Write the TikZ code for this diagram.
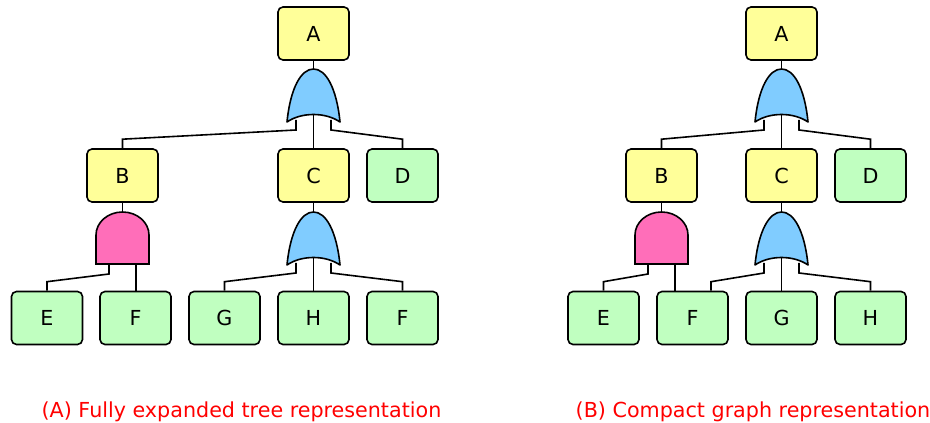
\documentclass[tikz,border=0pt]{standalone}
\usepackage{tikz}
\usepackage{xcolor}
\usepackage{fontspec}
\setmainfont{DejaVu Sans}
\usetikzlibrary{positioning}

\definecolor{evyellow}{HTML}{FFFF99}
\definecolor{evgreen}{HTML}{C0FFC0}
\definecolor{orblue}{HTML}{80CCFF}
\definecolor{andpink}{HTML}{FF6EB9}

\tikzset{
  event/.style={draw,rounded corners=3.75pt,line width=1.2pt,
    minimum width=53.25pt,minimum height=39.75pt,inner sep=0pt,
    font=\fontsize{15.5}{18}\selectfont},
  inter/.style={event,fill=evyellow},
  basic/.style={event,fill=evgreen},
  wire/.style={line width=1.2pt},
  caption/.style={text=red,anchor=base,font=\fontsize{15.5}{18}\selectfont},
  orgate/.pic={
    \draw[line width=1.2pt,fill=orblue,line join=round]
      (-26.5,53) .. controls (-23,18) and (-12,0) .. (0,0)
      .. controls (12,0) and (23,18) .. (26.5,53)
      .. controls (12,43) and (-12,43) .. cycle;
    \coordinate (-t) at (0,0);
    \coordinate (-l) at (-17.5,51);
    \coordinate (-m) at (0,46);
    \coordinate (-r) at (17.5,51);
  },
  andgate/.pic={
    \draw[line width=1.2pt,fill=andpink]
      (-26.5,52) -- (-26.5,23)
      .. controls (-26.5,10.3) and (-14.6,0) .. (0,0)
      .. controls (14.6,0) and (26.5,10.3) .. (26.5,23)
      -- (26.5,52) -- cycle;
    \coordinate (-t) at (0,0);
    \coordinate (-l) at (-13.5,52);
    \coordinate (-r) at (13.5,52);
  }
}

\begin{document}
\begin{tikzpicture}[x=0.75pt,y=-0.75pt]
  \useasboundingbox (0,0) rectangle (930,423);

  % (A) tree
  \node[inter] (ta) at (313.5,33.5) {A};
  \node[inter] (tb) at (122.5,175.5) {B};
  \node[inter] (tc) at (313.5,175.5) {C};
  \node[basic] (td) at (402.5,175.5) {D};
  \node[basic] (te) at (47,318) {E};
  \node[basic] (tf) at (135.5,318) {F};
  \node[basic] (tg) at (224.5,318) {G};
  \node[basic] (th) at (313.5,318) {H};
  \node[basic] (tf2) at (402.5,318) {F};
  \pic (tor1) at (313.5,69) {orgate};
  \pic (tand) at (122.5,212) {andgate};
  \pic (tor2) at (313.5,212) {orgate};

  \draw[wire] (ta.south) -- (tor1-t);
  \draw[wire] (tor1-l) -- ++(0,10) -- ([yshift=6.75pt]tb.north) -- (tb.north);
  \draw[wire] (tor1-m) -- (tc.north);
  \draw[wire] (tor1-r) -- ++(0,10) -- ([yshift=6.75pt]td.north) -- (td.north);
  \draw[wire] (tb.south) -- (tand-t);
  \draw[wire] (tand-l) -- ++(0,10) -- ([yshift=6.75pt]te.north) -- (te.north);
  \draw[wire] (tand-r) -- (tand-r |- tf.north);
  \draw[wire] (tc.south) -- (tor2-t);
  \draw[wire] (tor2-l) -- ++(0,10) -- ([yshift=6.75pt]tg.north) -- (tg.north);
  \draw[wire] (tor2-m) -- (th.north);
  \draw[wire] (tor2-r) -- ++(0,10) -- ([yshift=6.75pt]tf2.north) -- (tf2.north);

  % (B) graph
  \node[inter] (ga) at (781.5,33.5) {A};
  \node[inter] (gb) at (661.5,175.5) {B};
  \node[inter] (gc) at (781.5,175.5) {C};
  \node[basic] (gd) at (870.5,175.5) {D};
  \node[basic] (ge) at (603.5,318) {E};
  \node[basic] (gf) at (692.5,318) {F};
  \node[basic] (gg) at (781.5,318) {G};
  \node[basic] (gh) at (870.5,318) {H};
  \pic (gor1) at (781.5,69) {orgate};
  \pic (gand) at (661.5,212) {andgate};
  \pic (gor2) at (781.5,212) {orgate};

  \draw[wire] (ga.south) -- (gor1-t);
  \draw[wire] (gor1-l) -- ++(0,10) -- ([yshift=6.75pt]gb.north) -- (gb.north);
  \draw[wire] (gor1-m) -- (gc.north);
  \draw[wire] (gor1-r) -- ++(0,10) -- ([yshift=6.75pt]gd.north) -- (gd.north);
  \draw[wire] (gb.south) -- (gand-t);
  \draw[wire] (gand-l) -- ++(0,10) -- ([yshift=6.75pt]ge.north) -- (ge.north);
  \draw[wire] (gand-r) -- (gand-r |- gf.north);
  \draw[wire] (gc.south) -- (gor2-t);
  \draw[wire] (gor2-l) -- ++(0,10) -- ([xshift=13.9pt,yshift=6.75pt]gf.north) -- ([xshift=13.9pt]gf.north);
  \draw[wire] (gor2-m) -- (gg.north);
  \draw[wire] (gor2-r) -- ++(0,10) -- ([yshift=6.75pt]gh.north) -- (gh.north);

  \node[caption] (capa) at (241.5,417) {(A) Fully expanded tree representation};
  \node[caption] (capb) at (753,417) {(B) Compact graph representation};
\end{tikzpicture}
\end{document}
